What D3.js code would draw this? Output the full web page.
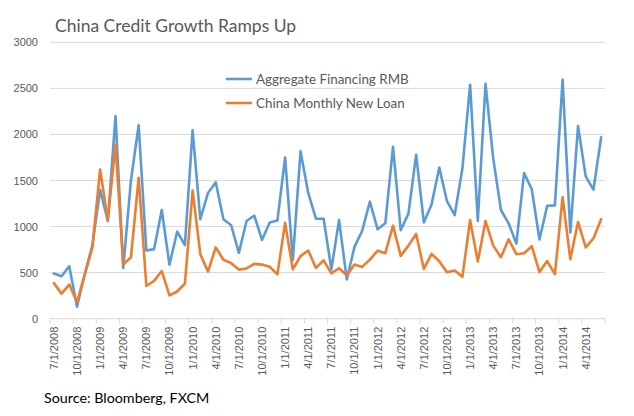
<!DOCTYPE html>
<html>
<head>
<meta charset="utf-8">
<script src="https://cdn.jsdelivr.net/npm/d3@7"></script>
<style>
  html, body { margin: 0; padding: 0; background: #fff; }
  svg { display: block; }
</style>
</head>
<body>
<svg id="chart" width="634" height="416"></svg>
<script>
// ---- Data ----
const months = d3.range(72).map(i => new Date(2008, 6 + i, 1));
const monthLabels = months.map(d => (d.getMonth() + 1) + "/1/" + d.getFullYear());

const aggregateFinancing = [
  490, 460, 570, 130, 480, 800,
  1400, 1060, 2200, 550, 1500, 2100, 740, 755, 1180, 585, 945, 800,
  2045, 1080, 1365, 1480, 1080, 1015, 715, 1060, 1120, 855, 1045, 1065,
  1750, 636, 1817, 1365, 1085, 1085, 535, 1070, 427, 780, 955, 1270,
  970, 1035, 1865, 960, 1140, 1780, 1045, 1240, 1640, 1275, 1125, 1630,
  2540, 1060, 2550, 1740, 1180, 1035, 815, 1580, 1405, 860, 1225, 1230,
  2595, 935, 2090, 1545, 1400, 1970
];
const newLoans = [
  386, 272, 370, 181, 477, 772,
  1620, 1070, 1890, 592, 664, 1530, 355, 410, 517, 253, 295, 380,
  1390, 700, 511, 774, 640, 603, 533, 545, 595, 587, 564, 481,
  1040, 535, 679, 740, 551, 634, 492, 548, 470, 587, 562, 641,
  738, 711, 1010, 682, 793, 920, 540, 704, 623, 505, 523, 454,
  1070, 620, 1060, 793, 667, 861, 700, 711, 787, 506, 625, 483,
  1320, 645, 1050, 775, 871, 1080
];
const yTicks = [0, 500, 1000, 1500, 2000, 2500, 3000];
const seriesNames = ["Aggregate Financing RMB", "China Monthly New Loan"];
const seriesColors = ["#5b9bd5", "#ed7d31"];
const titleText = "China Credit Growth Ramps Up";
const sourceText = "Source: Bloomberg, FXCM";

// ---- Layout ----
const svg = d3.select("#chart");
const plot = { left: 50, right: 605, top: 42.3, bottom: 318.7 };

const x = d3.scaleBand().domain(d3.range(months.length)).range([plot.left, plot.right]).padding(0);
const y = d3.scaleLinear().domain([0, 3000]).range([plot.bottom, plot.top]);

const gray = "#595959";
const fontAxis = "'Liberation Sans', Arial, sans-serif";
const fontText = "Lato, 'Open Sans', sans-serif";

// Gridlines
svg.append("g").selectAll("line").data(yTicks.filter(d => d > 0)).join("line")
  .attr("x1", plot.left).attr("x2", plot.right)
  .attr("y1", d => y(d)).attr("y2", d => y(d))
  .attr("stroke", "#d9d9d9").attr("stroke-width", 1);

// Y axis labels
const yAxis = d3.axisLeft(y).tickValues(yTicks).tickFormat(d3.format("d")).tickSize(0).tickPadding(12);
const yg = svg.append("g").attr("transform", `translate(${plot.left},0)`).call(yAxis);
yg.select(".domain").remove();
yg.selectAll("text").attr("fill", gray).style("font-family", fontAxis).style("font-size", "11px");

// X axis (category, ticks every 3 months at boundaries)
const xg = svg.append("g").attr("transform", `translate(0,${plot.bottom})`);
xg.append("line").attr("x1", plot.left).attr("x2", plot.right).attr("y1", 0).attr("y2", 0)
  .attr("stroke", "#d9d9d9").attr("stroke-width", 1);
const tickIdx = d3.range(0, months.length + 1, 3);
xg.selectAll("line.tick").data(tickIdx).join("line").attr("class", "tick")
  .attr("x1", i => plot.left + i * x.bandwidth()).attr("x2", i => plot.left + i * x.bandwidth())
  .attr("y1", 0).attr("y2", 5).attr("stroke", "#d9d9d9");
const labelIdx = d3.range(0, months.length, 3);
xg.selectAll("text").data(labelIdx).join("text")
  .attr("transform", i => `translate(${x(i) + x.bandwidth() / 2 + 4},8) rotate(-90)`)
  .attr("text-anchor", "end")
  .attr("fill", gray).style("font-family", fontAxis).style("font-size", "11px")
  .text(i => monthLabels[i]);

// Lines
const line = d3.line().x((d, i) => x(i) + x.bandwidth() / 2).y(d => y(d));
[aggregateFinancing, newLoans].forEach((s, k) => {
  svg.append("path").datum(s).attr("d", line)
    .attr("fill", "none").attr("stroke", seriesColors[k]).attr("stroke-width", 2.6)
    .attr("stroke-linejoin", "round").attr("stroke-linecap", "round");
});

// Legend
const legend = svg.append("g");
seriesNames.forEach((n, k) => {
  const ly = 79 + k * 24;
  legend.append("line").attr("x1", 226).attr("x2", 252).attr("y1", ly).attr("y2", ly)
    .attr("stroke", seriesColors[k]).attr("stroke-width", 2.6);
  legend.append("text").attr("x", 256).attr("y", ly + 5).attr("fill", gray)
    .style("font-family", fontText).style("font-size", "13.4px").text(n);
});

// Title
svg.append("text").attr("x", 55).attr("y", 32).attr("fill", gray)
  .style("font-family", fontText).style("font-size", "17.5px").text(titleText);

// Source
svg.append("text").attr("x", 44).attr("y", 403).attr("fill", "#000")
  .style("font-family", fontText).style("font-size", "14.3px").text(sourceText);
</script>
</body>
</html>
